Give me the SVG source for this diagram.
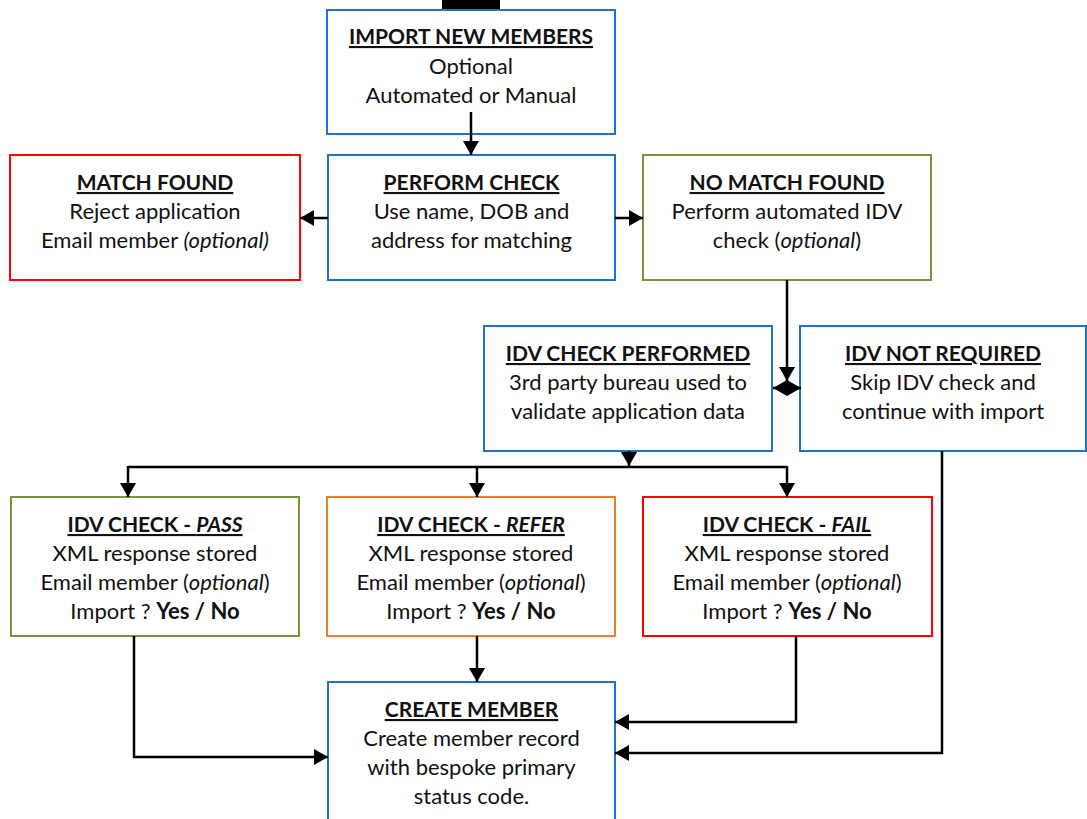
<svg xmlns="http://www.w3.org/2000/svg" width="1087" height="819" viewBox="0 0 1087 819">
  <style>
    .box { fill: #ffffff; stroke-width: 2; }
    .blue { stroke: #1f73c2; }
    .red { stroke: #ff0000; }
    .green { stroke: #77933c; }
    .orange { stroke: #ed7d31; }
    text { font-family: Lato, "Open Sans", "Liberation Sans", sans-serif; font-size: 22px; fill: #111111; text-anchor: middle; }
    .title { font-weight: bold; text-decoration: underline; font-size: 21px; }
    .it { font-style: italic; }
    .b { font-weight: bold; }
    .wire { fill: none; stroke: #000000; stroke-width: 2.5; }
  </style>
  <defs>
    <marker id="arrow" viewBox="0 0 14 16" refX="14" refY="8" markerWidth="14" markerHeight="16" markerUnits="userSpaceOnUse" orient="auto">
      <path d="M0,0 L14,8 L0,16 z" fill="#000000"/>
    </marker>
  </defs>

  <rect width="1087" height="819" fill="#ffffff"/>

  <!-- stub of an incoming line cut by the top edge -->
  <rect x="442" y="0" width="58" height="9" fill="#000000"/>

  <g id="import-new-members">
    <rect class="box blue" x="327" y="10" width="288" height="124"/>
    <text x="471" y="44"><tspan class="title">IMPORT NEW MEMBERS</tspan></text>
    <text x="471" y="74">Optional</text>
    <text x="471" y="103">Automated or Manual</text>
  </g>

  <g id="match-found">
    <rect class="box red" x="10" y="155" width="290" height="125"/>
    <text x="155" y="190"><tspan class="title">MATCH FOUND</tspan></text>
    <text x="155" y="219">Reject application</text>
    <text x="155" y="248">Email member <tspan class="it">(optional)</tspan></text>
  </g>

  <g id="perform-check">
    <rect class="box blue" x="328" y="155" width="287" height="125"/>
    <text x="471.5" y="190"><tspan class="title">PERFORM CHECK</tspan></text>
    <text x="471.5" y="219">Use name, DOB and</text>
    <text x="471.5" y="248">address for matching</text>
  </g>

  <g id="no-match-found">
    <rect class="box green" x="643" y="155" width="288" height="125"/>
    <text x="787" y="190"><tspan class="title">NO MATCH FOUND</tspan></text>
    <text x="787" y="219">Perform automated IDV</text>
    <text x="787" y="248">check (<tspan class="it">optional</tspan>)</text>
  </g>

  <g id="idv-check-performed">
    <rect class="box blue" x="484" y="326" width="288" height="125"/>
    <text x="628" y="361"><tspan class="title">IDV CHECK PERFORMED</tspan></text>
    <text x="628" y="390">3rd party bureau used to</text>
    <text x="628" y="419">validate application data</text>
  </g>

  <g id="idv-not-required">
    <rect class="box blue" x="800" y="326" width="286" height="125"/>
    <text x="943" y="361"><tspan class="title">IDV NOT REQUIRED</tspan></text>
    <text x="943" y="390">Skip IDV check and</text>
    <text x="943" y="419">continue with import</text>
  </g>

  <g id="idv-pass">
    <rect class="box green" x="11" y="497" width="288" height="139"/>
    <text x="155" y="532"><tspan class="title">IDV CHECK - <tspan class="it">PASS</tspan></tspan></text>
    <text x="155" y="561">XML response stored</text>
    <text x="155" y="590">Email member (<tspan class="it">optional</tspan>)</text>
    <text x="155" y="619">Import ? <tspan class="b">Yes / No</tspan></text>
  </g>

  <g id="idv-refer">
    <rect class="box orange" x="327" y="497" width="288" height="139"/>
    <text x="471" y="532"><tspan class="title">IDV CHECK - <tspan class="it">REFER</tspan></tspan></text>
    <text x="471" y="561">XML response stored</text>
    <text x="471" y="590">Email member (<tspan class="it">optional</tspan>)</text>
    <text x="471" y="619">Import ? <tspan class="b">Yes / No</tspan></text>
  </g>

  <g id="idv-fail">
    <rect class="box red" x="643" y="497" width="289" height="139"/>
    <text x="787" y="532"><tspan class="title">IDV CHECK - <tspan class="it">FAIL</tspan></tspan></text>
    <text x="787" y="561">XML response stored</text>
    <text x="787" y="590">Email member (<tspan class="it">optional</tspan>)</text>
    <text x="787" y="619">Import ? <tspan class="b">Yes / No</tspan></text>
  </g>

  <g id="create-member">
    <rect class="box blue" x="328" y="682" width="287" height="150"/>
    <text x="471.5" y="717"><tspan class="title">CREATE MEMBER</tspan></text>
    <text x="471.5" y="746">Create member record</text>
    <text x="471.5" y="775">with bespoke primary</text>
    <text x="471.5" y="804">status code.</text>
  </g>

  <g id="connectors">
    <path class="wire" d="M471,112 V155" marker-end="url(#arrow)"/>
    <path class="wire" d="M328,218 H300" marker-end="url(#arrow)"/>
    <path class="wire" d="M615,218 H643" marker-end="url(#arrow)"/>
    <path class="wire" d="M787,280 V381" marker-end="url(#arrow)"/>
    <path class="wire" d="M787,388 H773" marker-end="url(#arrow)"/>
    <path class="wire" d="M787,388 H801" marker-end="url(#arrow)"/>
    <path class="wire" d="M629,451 V466" marker-end="url(#arrow)"/>
    <path class="wire" d="M128,467 H787"/>
    <path class="wire" d="M128,466 V497" marker-end="url(#arrow)"/>
    <path class="wire" d="M477,467 V497" marker-end="url(#arrow)"/>
    <path class="wire" d="M787,466 V497" marker-end="url(#arrow)"/>
    <path class="wire" d="M134,636 V757 H328" marker-end="url(#arrow)"/>
    <path class="wire" d="M477,636 V682" marker-end="url(#arrow)"/>
    <path class="wire" d="M796,636 V722 H615" marker-end="url(#arrow)"/>
    <path class="wire" d="M942,451 V753 H615" marker-end="url(#arrow)"/>
  </g>
</svg>
